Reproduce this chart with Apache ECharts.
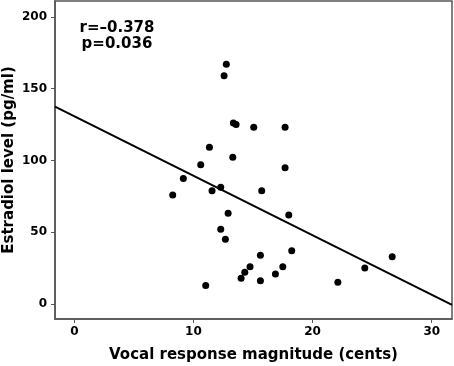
<!DOCTYPE html>
<html>
<head>
<meta charset="utf-8">
<script src="https://cdn.jsdelivr.net/npm/echarts@6/dist/echarts.min.js"></script>
<style>
  html, body { margin: 0; padding: 0; background: #fff; }
  #chart { width: 454px; height: 366px; }
</style>
</head>
<body>
<div id="chart"></div>
<script>
// vocal response magnitude (cents) vs estradiol (pg/ml)
var magnitude = [12.76, 12.57, 13.35, 13.58, 15.06, 17.69, 11.34, 13.30, 10.61, 17.69,
  9.15, 8.26, 11.56, 12.29, 15.73, 18.00, 12.91, 12.29, 12.68, 15.62,
  18.25, 14.75, 14.31, 14.00, 17.50, 16.88, 15.62, 11.03, 26.68, 24.38, 22.12];
var estradiol = [166.9, 159.0, 126.0, 125.1, 123.1, 123.1, 109.1, 102.2, 97.0, 94.9,
  87.4, 75.9, 78.9, 81.3, 78.9, 62.0, 63.2, 52.0, 45.1, 33.9,
  37.1, 26.0, 22.1, 17.9, 26.0, 20.9, 16.2, 13.0, 32.9, 25.1, 15.1];
var xTicks = [0, 10, 20, 30];
var yTicks = [0, 50, 100, 150, 200];
var fitIntercept = 130.7;
var fitSlope = -4.14;
var statLines = ["r=\u20130.378", "p=0.036"];

var xMin = -1.62, xMax = 31.7;
var yMin = -10.4, yMax = 211;

var points = magnitude.map(function (x, i) { return [x, estradiol[i]]; });
var fitLine = [xMin, xMax].map(function (x) { return [x, fitIntercept + fitSlope * x]; });

var font = "DejaVu Sans";
var chart = echarts.init(document.getElementById("chart"));
chart.setOption({
  animation: false,
  grid: {
    left: 55, right: 2, top: 1, bottom: 47,
    outerBoundsMode: "none",
    containLabel: false,
    show: true,
    borderColor: "#555",
    borderWidth: 1.5
  },
  xAxis: {
    type: "value",
    min: xMin,
    max: xMax,
    name: "Vocal response magnitude (cents)",
    nameLocation: "middle",
    nameGap: 29,
    nameMoveOverlap: false,
    nameTextStyle: { fontFamily: font, fontWeight: "bold", fontSize: 15, color: "#000" },
    axisLine: { show: true, onZero: false, lineStyle: { color: "#555", width: 1.5 } },
    axisTick: { show: true, length: 4, lineStyle: { color: "#555" }, customValues: xTicks },
    axisLabel: { fontFamily: font, fontWeight: "bold", fontSize: 12, color: "#000", margin: 7, customValues: xTicks },
    splitLine: { show: false }
  },
  yAxis: {
    type: "value",
    min: yMin,
    max: yMax,
    name: "Estradiol level (pg/ml)",
    nameLocation: "middle",
    nameGap: 38,
    nameMoveOverlap: false,
    nameTextStyle: { fontFamily: font, fontWeight: "bold", fontSize: 15, color: "#000" },
    axisLine: { show: true, onZero: false, lineStyle: { color: "#555", width: 1.5 } },
    axisTick: { show: true, length: 4, lineStyle: { color: "#555" }, customValues: yTicks },
    axisLabel: { fontFamily: font, fontWeight: "bold", fontSize: 12, color: "#000", margin: 8, customValues: yTicks },
    splitLine: { show: false }
  },
  graphic: [{
    type: "text",
    x: 117,
    y: 20,
    style: {
      text: statLines.join("\n"),
      font: "bold 15px " + font,
      fill: "#000",
      align: "center",
      lineHeight: 16
    }
  }],
  series: [
    {
      type: "line",
      data: fitLine,
      symbol: "none",
      lineStyle: { color: "#000", width: 2 },
      z: 2
    },
    {
      type: "scatter",
      data: points,
      symbolSize: 7,
      itemStyle: { color: "#000", opacity: 1 },
      z: 3
    }
  ]
});
</script>
</body>
</html>
